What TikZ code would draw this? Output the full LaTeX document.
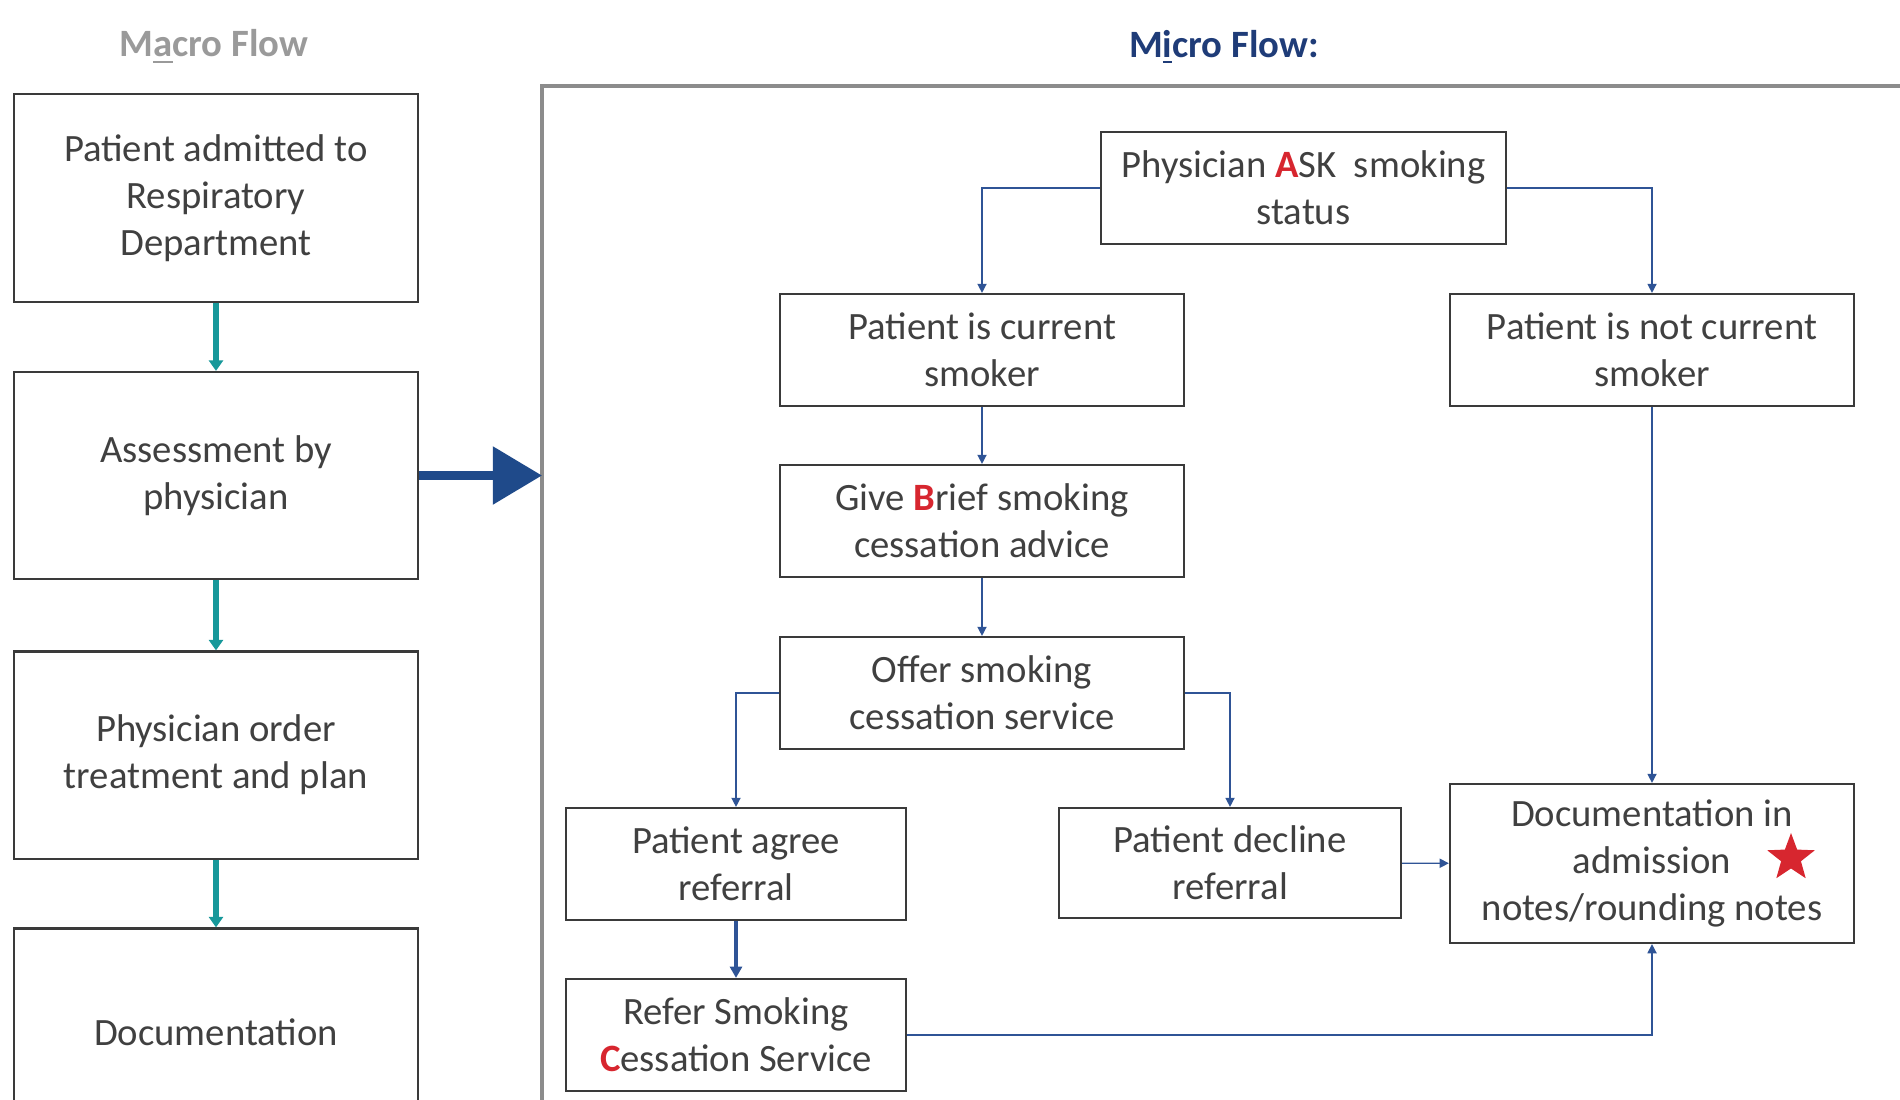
\documentclass[tikz,border=0pt]{standalone}
\usepackage{fontspec}
\setmainfont{Carlito}
\usetikzlibrary{shapes.geometric,arrows.meta}
\definecolor{boxline}{HTML}{3A3A3A}
\definecolor{boxtext}{HTML}{404040}
\definecolor{linkblue}{HTML}{2F5496}
\definecolor{macroteal}{HTML}{17989A}
\definecolor{bignavy}{HTML}{1F4A8A}
\definecolor{microtitle}{HTML}{1F3C78}
\definecolor{macrotitle}{HTML}{9A9A9A}
\definecolor{letterred}{HTML}{D7262F}
\definecolor{framegrey}{HTML}{8C8C8C}
\newcommand{\keyletter}[1]{\textcolor{letterred}{\textbf{#1}}}

\begin{document}
\begin{tikzpicture}[x=0.01cm,y=-0.01cm]
\tikzstyle{box}=[rectangle,draw=boxline,line width=0.6pt,text=boxtext,align=center,font=\fontsize{11}{13.4}\selectfont,inner sep=0pt]
\tikzstyle{macro}=[box,minimum width=4.04cm,minimum height=2.07cm]
\tikzstyle{micro}=[box,minimum width=4.04cm,minimum height=1.12cm]
\tikzstyle{small}=[box,minimum width=3.40cm,minimum height=1.12cm]
\tikzstyle{title}=[font=\fontsize{11}{13}\selectfont\bfseries]
\tikzstyle{flow}=[draw=linkblue,line width=0.4pt,-{Triangle[length=2.6pt,width=2.6pt]}]
\tikzstyle{flowthick}=[draw=linkblue,line width=1pt,-{Triangle[length=3.2pt,width=3.4pt]}]
\tikzstyle{down}=[draw=macroteal,line width=1.6pt,-{Triangle[length=3pt,width=4pt]}]
\clip (0,0) rectangle (1900,1100);

% titles
\node[title,text=macrotitle](MT) at (214,47) {M\underline{a}cro Flow};
\node[title,text=microtitle](IT) at (1224,47) {M\underline{i}cro Flow:};

% micro frame
\draw[framegrey,line width=1.1pt] (1900,86) -- (542,86) -- (542,1100);
\coordinate (FR) at (542,475.5);

% macro flow
\node[macro](ADM) at (216,198) {Patient admitted to\\Respiratory\\Department};
\node[macro](ASS) at (216,475.5) {Assessment by\\physician};
\node[macro](ORD) at (216,755) {Physician order\\treatment and plan};
\node[macro](DOC) at (216,1032) {Documentation};

\draw[down] (ADM) -- (ASS);
\draw[down] (ASS) -- (ORD);
\draw[down] (ORD) -- (DOC);
\draw[bignavy,line width=2.4pt,-{Triangle[length=14pt,width=16pt]}] (ASS.east) -- (FR);

% micro flow
\node[micro,minimum width=4.05cm](ASK) at (1303.5,188) {Physician \keyletter{A}SK~ smoking\\status};
\node[micro](CUR) at (982,350) {Patient is current\\smoker};
\node[micro](NOT) at (1652,350) {Patient is not current\\smoker};
\node[micro](BRF) at (982,521) {Give \keyletter{B}rief smoking\\cessation advice};
\node[micro](OFR) at (982,693) {Offer smoking\\cessation service};
\node[small](AGR) at (736,864) {Patient agree\\referral};
\node[small,minimum width=3.42cm,minimum height=1.10cm](DEC) at (1230,863) {Patient decline\\referral};
\node[micro,minimum height=1.59cm](NOTE) at (1652,863.5) {Documentation in\\admission\\notes/rounding notes};
\node[small](REF) at (736,1035) {Refer Smoking\\\keyletter{C}essation Service};
\node[star,star points=5,star point ratio=2.4,fill=letterred,minimum size=0.5cm,inner sep=0pt](STAR) at (1791,858) {};

\draw[flow] (ASK.west) -| (CUR.north);
\draw[flow] (ASK.east) -| (NOT.north);
\draw[flow] (CUR) -- (BRF);
\draw[flow] (BRF) -- (OFR);
\draw[flow] (OFR.west) -| (AGR.north);
\draw[flow] (OFR.east) -| (DEC.north);
\draw[flowthick] (AGR) -- (REF);
\draw[flow] (DEC) -- (NOTE);
\draw[flow] (NOT) -- (NOTE);
\draw[flow] (REF.east) -| (NOTE.south);
\end{tikzpicture}
\end{document}
